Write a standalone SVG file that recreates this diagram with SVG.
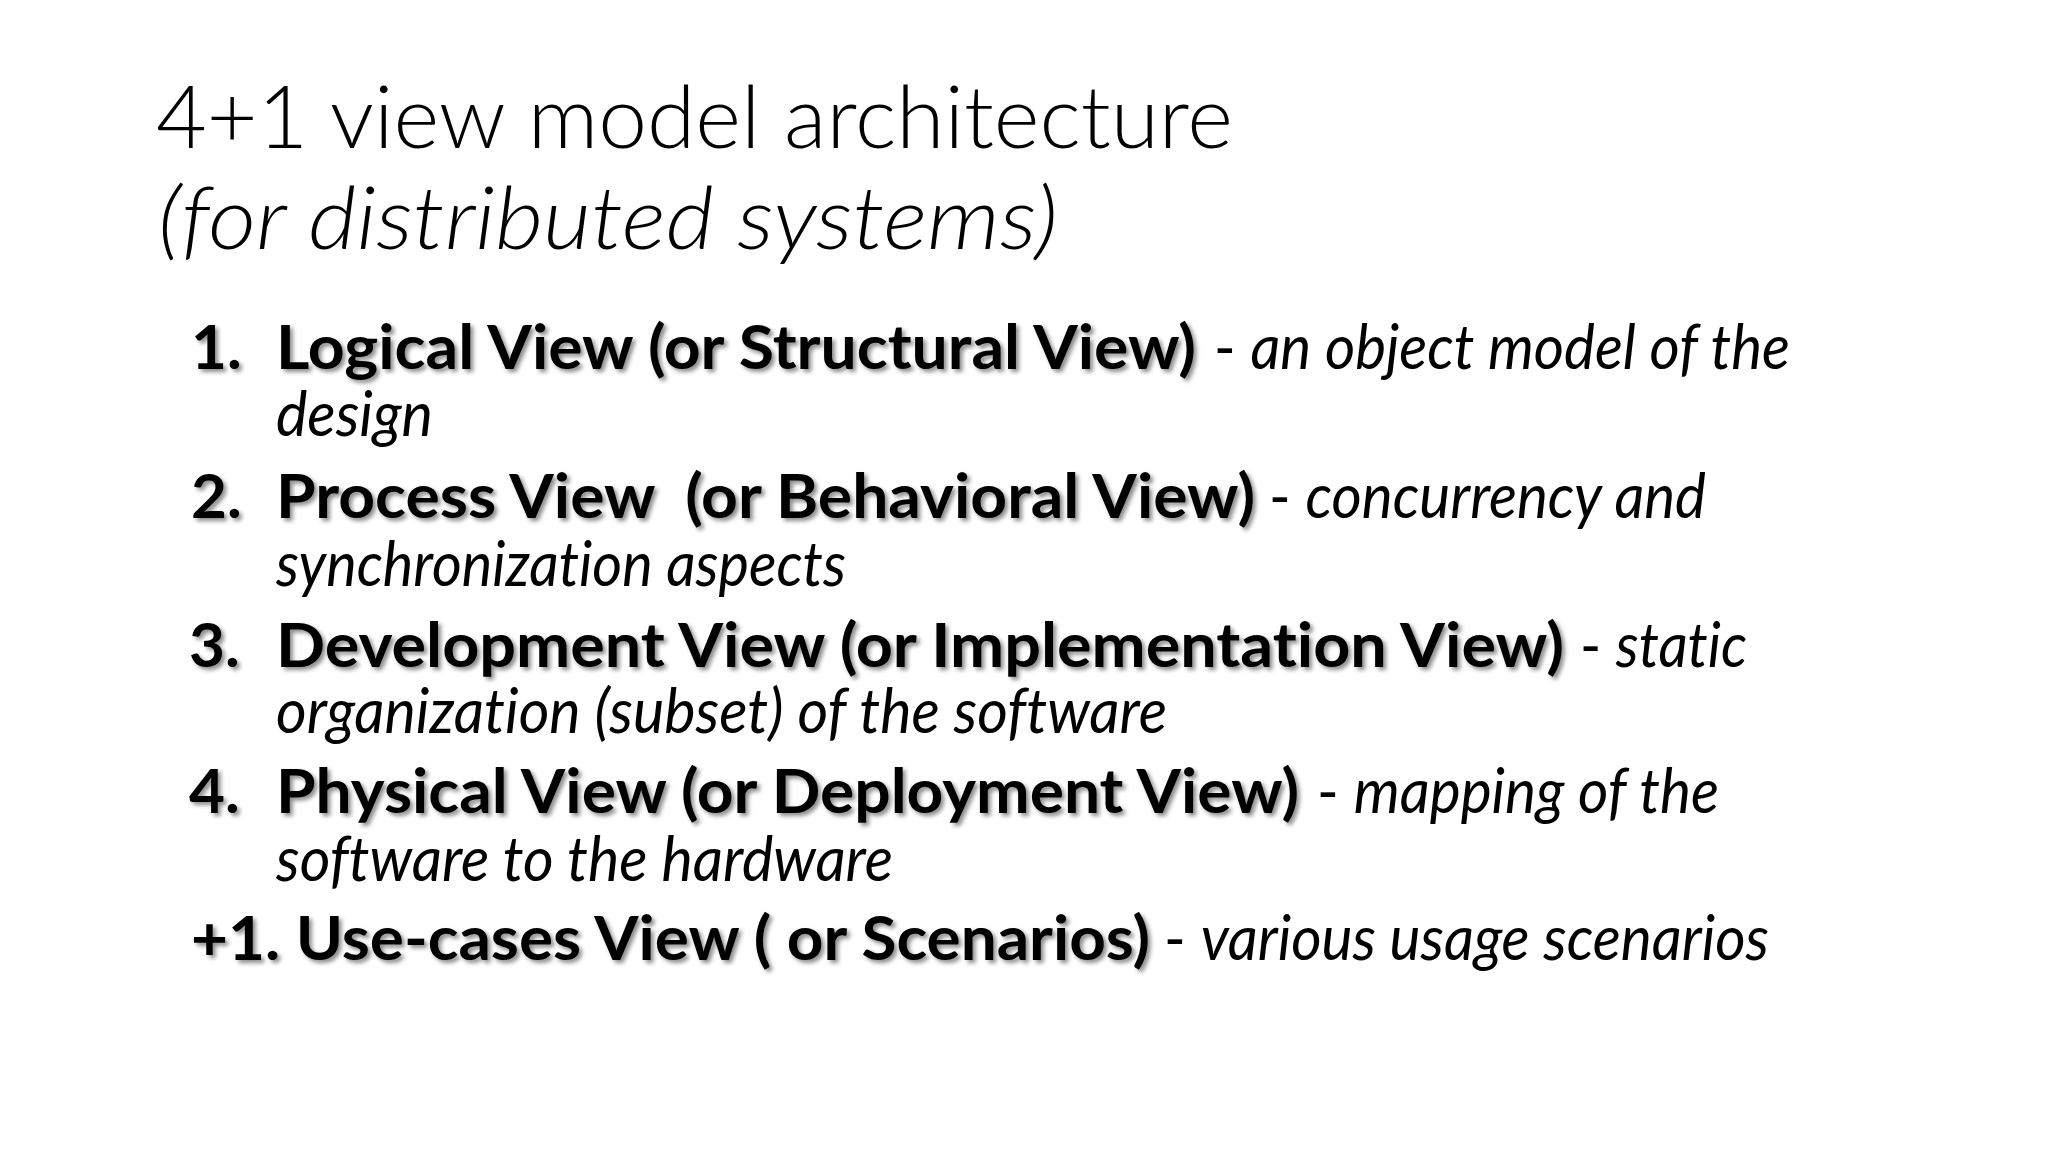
<svg xmlns="http://www.w3.org/2000/svg" width="2048" height="1152" viewBox="0 0 2048 1152">
<defs>
<filter id="shadow" x="-5%" y="-30%" width="110%" height="160%">
<feDropShadow dx="3" dy="3" stdDeviation="2" flood-color="#000" flood-opacity="0.45"/>
</filter>
<style>
text { font-family: Lato, "Open Sans", "Liberation Sans", sans-serif; fill: #000; font-variant-ligatures: none; font-feature-settings: "liga" 0, "clig" 0, "dlig" 0; }
.title { font-size: 86px; font-weight: 300; }
.ti { font-style: italic; }
.b { font-size: 62px; font-weight: 700; filter: url(#shadow); }
.tail { font-size: 62px; font-weight: 400; }
.i { font-style: italic; }
.sub { font-size: 62px; font-weight: 400; font-style: italic; }
</style>
</defs>
<rect x="0" y="0" width="2048" height="1152" fill="#fff"/>

<g id="title">
<text class="title" x="156" y="148" textLength="1077" lengthAdjust="spacingAndGlyphs">4+1 view model architecture</text>
<text class="title ti" x="158" y="249" textLength="900" lengthAdjust="spacingAndGlyphs">(for distributed systems)</text>
</g>

<g id="item1">
<text class="b" x="191" y="369">1.</text>
<text class="b" x="276" y="369" textLength="920" lengthAdjust="spacingAndGlyphs">Logical View (or Structural View)</text>
<text class="tail" x="1214" y="369" textLength="576" lengthAdjust="spacingAndGlyphs">- <tspan class="i">an object model of the</tspan></text>
<text class="sub" x="276" y="436" textLength="157" lengthAdjust="spacingAndGlyphs">design</text>
</g>

<g id="item2">
<text class="b" x="191" y="518">2.</text>
<text class="b" x="276" y="518" xml:space="preserve" textLength="979" lengthAdjust="spacingAndGlyphs">Process View  (or Behavioral View)</text>
<text class="tail" x="1269" y="518" textLength="437" lengthAdjust="spacingAndGlyphs">- <tspan class="i">concurrency and</tspan></text>
<text class="sub" x="276" y="586" textLength="570" lengthAdjust="spacingAndGlyphs">synchronization aspects</text>
</g>

<g id="item3">
<text class="b" x="189" y="667">3.</text>
<text class="b" x="276" y="667" textLength="1288" lengthAdjust="spacingAndGlyphs">Development View (or Implementation View)</text>
<text class="tail" x="1580" y="667" textLength="167" lengthAdjust="spacingAndGlyphs">- <tspan class="i">static</tspan></text>
<text class="sub" x="276" y="733" textLength="891" lengthAdjust="spacingAndGlyphs">organization (subset) of the software</text>
</g>

<g id="item4">
<text class="b" x="189" y="813">4.</text>
<text class="b" x="276" y="813" textLength="1023" lengthAdjust="spacingAndGlyphs">Physical View (or Deployment View)</text>
<text class="tail" x="1317" y="813" textLength="402" lengthAdjust="spacingAndGlyphs">- <tspan class="i">mapping of the</tspan></text>
<text class="sub" x="276" y="881" textLength="617" lengthAdjust="spacingAndGlyphs">software to the hardware</text>
</g>

<g id="item5">
<text class="b" x="191" y="960" textLength="959" lengthAdjust="spacingAndGlyphs">+1. Use-cases View ( or Scenarios)</text>
<text class="tail" x="1164" y="960" textLength="605" lengthAdjust="spacingAndGlyphs">- <tspan class="i">various usage scenarios</tspan></text>
</g>
</svg>
